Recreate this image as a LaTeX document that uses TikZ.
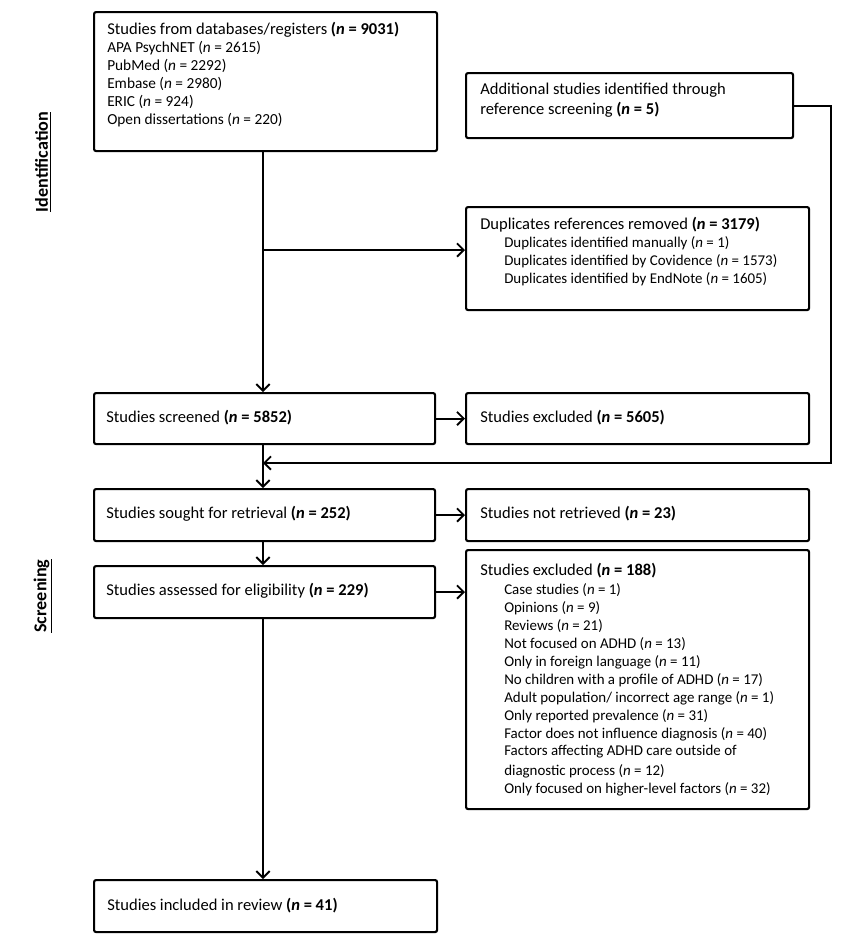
\documentclass[tikz,border=0pt]{standalone}
\usepackage{fontspec}
\setmainfont{Carlito}
\usetikzlibrary{arrows.meta,calc}
\begin{document}
\begin{tikzpicture}[x=0.75pt,y=-0.75pt,
  box/.style={draw=black, line width=1.6pt, rounded corners=1.5pt, anchor=north west, inner sep=0pt},
  txt/.style={anchor=west, inner sep=0pt, align=left, font=\fontsize{12.4pt}{15pt}\selectfont},
  sub/.style={anchor=west, inner sep=0pt, align=left, font=\fontsize{11.2pt}{13.5pt}\selectfont},
  suba/.style={sub, font=\fontsize{11.5pt}{13.5pt}\selectfont},
  arr/.style={line width=1.6pt, -{Straight Barb[length=5pt,width=10pt,line width=1.4pt]}},
  side/.style={rotate=90, inner sep=0pt, font=\fontsize{13.6pt}{15pt}\selectfont\bfseries}]
\useasboundingbox (0,0) rectangle (868,947);
\fill[white] (0,0) rectangle (868,947);

% boxes
\node[box, minimum width=0.75*343pt, minimum height=0.75*139pt] (A) at (93,11) {};
\node[box, minimum width=0.75*327pt, minimum height=0.75*65pt] (B) at (465,72) {};
\node[box, minimum width=0.75*343pt, minimum height=0.75*103pt] (C) at (465,206) {};
\node[box, minimum width=0.75*341pt, minimum height=0.75*51pt] (D) at (93,392) {};
\node[box, minimum width=0.75*343pt, minimum height=0.75*51pt] (E) at (465,392) {};
\node[box, minimum width=0.75*341pt, minimum height=0.75*52pt] (F) at (93,488) {};
\node[box, minimum width=0.75*343pt, minimum height=0.75*52pt] (G) at (465,488) {};
\node[box, minimum width=0.75*341pt, minimum height=0.75*52pt] (H) at (93,565) {};
\node[box, minimum width=0.75*343pt, minimum height=0.75*259pt] (I) at (465,549) {};
\node[box, minimum width=0.75*343pt, minimum height=0.75*52pt] (J) at (93,879) {};

% texts
\node[txt] (A1) at (107,30) {Studies from databases/registers \textbf{(\textit{n} = 9031)}};
\node[suba] (A2) at (107,48) {APA PsychNET (\textit{n} = 2615)};
\node[suba] (A3) at (107,66) {PubMed (\textit{n} = 2292)};
\node[suba] (A4) at (107,84) {Embase (\textit{n} = 2980)};
\node[suba] (A5) at (107,102) {ERIC (\textit{n} = 924)};
\node[suba] (A6) at (107,120) {Open dissertations (\textit{n} = 220)};

\node[txt] (B1) at (480,90) {Additional studies identified through};
\node[txt] (B2) at (480,110) {reference screening \textbf{(\textit{n} = 5)}};

\node[txt] (C1) at (480,225) {Duplicates references removed \textbf{(\textit{n} = 3179)}};
\node[sub] (C2) at (504,243) {Duplicates identified manually (\textit{n} = 1)};
\node[sub] (C3) at (504,261) {Duplicates identified by Covidence (\textit{n} = 1573)};
\node[sub] (C4) at (504,279) {Duplicates identified by EndNote (\textit{n} = 1605)};

\node[txt] (D1) at (106,418) {Studies screened \textbf{(\textit{n} = 5852)}};
\node[txt] (E1) at (480,418) {Studies excluded \textbf{(\textit{n} = 5605)}};
\node[txt] (F1) at (106,514) {Studies sought for retrieval \textbf{(\textit{n} = 252)}};
\node[txt] (G1) at (480,514) {Studies not retrieved \textbf{(\textit{n} = 23)}};
\node[txt] (H1) at (106,591) {Studies assessed for eligibility \textbf{(\textit{n} = 229)}};

\node[txt] (I0) at (480,571) {Studies excluded \textbf{(\textit{n} = 188)}};
\node[sub] (I1) at (504,590) {Case studies (\textit{n} = 1)};
\node[sub] (I2) at (504,608) {Opinions (\textit{n} = 9)};
\node[sub] (I3) at (504,626) {Reviews (\textit{n} = 21)};
\node[sub] (I4) at (504,644) {Not focused on ADHD (\textit{n} = 13)};
\node[sub] (I5) at (504,662) {Only in foreign language (\textit{n} = 11)};
\node[sub] (I6) at (504,680) {No children with a profile of ADHD (\textit{n} = 17)};
\node[sub] (I7) at (504,698) {Adult population/ incorrect age range (\textit{n} = 1)};
\node[sub] (I8) at (504,716) {Only reported prevalence (\textit{n} = 31)};
\node[sub] (I9) at (504,734) {Factor does not influence diagnosis (\textit{n} = 40)};
\node[sub] (I10) at (504,752) {Factors affecting ADHD care outside of};
\node[sub] (I11) at (504,771) {diagnostic process (\textit{n} = 12)};
\node[sub] (I12) at (504,789) {Only focused on higher-level factors (\textit{n} = 32)};

\node[txt] (J1) at (107,906) {Studies included in review \textbf{(\textit{n} = 41)}};

% side labels
\node[side] (S1) at (43,162) {\underline{Identification}};
\node[side] (S2) at (43,596) {\underline{Screening}};

% connectors
\coordinate (m) at (263,0);
\draw[arr] (A.south -| m) -- (D.north -| m);
\coordinate (br) at (263,250);
\draw[arr] (br) -- (br -| C.west);
\draw[arr] (D.east) -- (D.east -| E.west);
\draw[arr] (D.south -| m) -- (F.north -| m);
\coordinate (rx) at (831,0);
\coordinate (join) at (263,463);
\draw[arr, rounded corners=0pt] (B.east) -- (B.east -| rx) -- (join -| rx) -- (join);
\draw[arr] (F.east) -- (F.east -| G.west);
\draw[arr] (F.south -| m) -- (H.north -| m);
\draw[arr] (H.east) -- (H.east -| I.west);
\draw[arr] (H.south -| m) -- (J.north -| m);
\end{tikzpicture}
\end{document}
